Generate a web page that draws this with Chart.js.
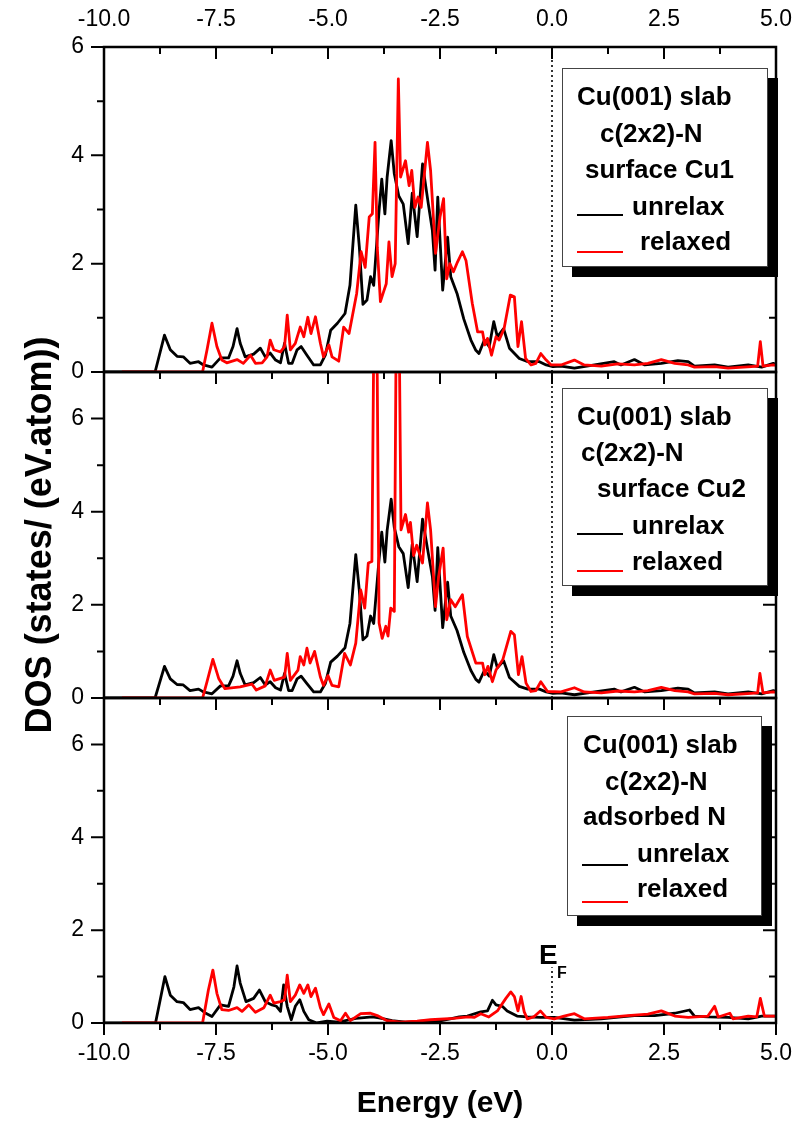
<!DOCTYPE html>
<html>
<head>
<meta charset="utf-8">
<script src="https://cdn.jsdelivr.net/npm/chart.js@4.4.1/dist/chart.umd.min.js"></script>
<style>
  body { margin: 0; background: #fff; font-family: 'Liberation Sans', Arial, sans-serif; }
  #wrap { position: relative; width: 796px; height: 1127px; overflow: hidden; }
  canvas { position: absolute; left: 0; top: 0; }
  .box { position: absolute; box-sizing: border-box; background: #fff; border: 1px solid #444; box-shadow: 10px 10px 0 #000; }
  .txt { position: absolute; font-weight: bold; font-size: 26px; line-height: 26px; white-space: nowrap; color: #000; }
  .dash { position: absolute; height: 2px; width: 46px; }
</style>
</head>
<body>
<div id="wrap">
  <canvas id="p1" width="796" height="1127"></canvas>
  <canvas id="p2" width="796" height="1127"></canvas>
  <canvas id="p3" width="796" height="1127"></canvas>
</div>
<script>
// energy axis (eV) and tick spacing
const energyMin = -10;
const energyMax = 5;
const energyStep = 2.5;
const dosStep = 2;

// panel 1: surface Cu1, [E, DOS]
const cu1Unrelax = [[-10,0],[-8.86,0],[-8.65,0.68],[-8.52,0.41],[-8.37,0.29],[-8.23,0.28],[-8.08,0.16],[-7.89,0.19],[-7.78,0.13],[-7.59,0.09],[-7.40,0.26],[-7.22,0.26],[-7.12,0.47],[-7.03,0.80],[-6.96,0.53],[-6.85,0.28],[-6.66,0.33],[-6.51,0.44],[-6.40,0.28],[-6.29,0.35],[-6.17,0.22],[-6.06,0.17],[-5.97,0.53],[-5.88,0.16],[-5.80,0.16],[-5.69,0.41],[-5.60,0.47],[-5.47,0.31],[-5.32,0.13],[-5.17,0.13],[-5.06,0.31],[-4.94,0.77],[-4.79,0.90],[-4.62,1.08],[-4.51,1.6],[-4.38,3.08],[-4.30,2.3],[-4.22,1.25],[-4.13,1.33],[-4.05,1.76],[-3.98,1.6],[-3.86,2.98],[-3.80,3.56],[-3.73,2.92],[-3.68,3.6],[-3.59,4.27],[-3.52,3.66],[-3.42,3.25],[-3.32,3.1],[-3.21,2.37],[-3.12,3.3],[-3.01,2.5],[-2.89,3.84],[-2.76,3.1],[-2.67,2.61],[-2.61,1.88],[-2.55,3.23],[-2.44,1.51],[-2.33,2.49],[-2.26,1.76],[-2.12,1.45],[-1.97,0.98],[-1.81,0.59],[-1.70,0.40],[-1.63,0.34],[-1.51,0.59],[-1.40,0.47],[-1.30,0.93],[-1.22,0.65],[-1.08,0.80],[-0.95,0.44],[-0.73,0.25],[-0.54,0.19],[-0.28,0.19],[-0.13,0.13],[0.02,0.10],[0.20,0.11],[0.50,0.07],[0.95,0.13],[1.39,0.19],[1.54,0.13],[1.84,0.23],[2.07,0.13],[2.44,0.16],[2.81,0.21],[3.04,0.19],[3.18,0.11],[3.63,0.13],[3.93,0.09],[4.38,0.13],[4.68,0.09],[4.94,0.16],[5,0.14]];
const cu1Relaxed = [[-9.6,0],[-7.8,0],[-7.70,0.41],[-7.59,0.90],[-7.48,0.47],[-7.37,0.22],[-7.26,0.17],[-7.03,0.23],[-6.89,0.16],[-6.73,0.31],[-6.62,0.16],[-6.47,0.17],[-6.36,0.28],[-6.29,0.59],[-6.21,0.41],[-6.06,0.37],[-5.97,0.47],[-5.91,1.05],[-5.84,0.41],[-5.73,0.53],[-5.62,0.83],[-5.54,0.65],[-5.45,1.01],[-5.38,0.71],[-5.28,1.02],[-5.17,0.53],[-5.10,0.28],[-4.98,0.50],[-4.91,0.28],[-4.76,0.20],[-4.65,0.83],[-4.53,0.71],[-4.36,1.45],[-4.26,2.22],[-4.17,1.93],[-4.08,2.86],[-4.01,2.92],[-3.95,4.24],[-3.90,2.3],[-3.83,1.3],[-3.76,1.48],[-3.70,1.63],[-3.64,2.40],[-3.57,1.76],[-3.50,2.0],[-3.43,5.41],[-3.38,3.60],[-3.27,3.90],[-3.19,3.44],[-3.13,3.72],[-3.06,3.04],[-2.99,3.23],[-2.92,3.04],[-2.78,4.24],[-2.71,3.72],[-2.60,2.19],[-2.50,2.86],[-2.42,3.20],[-2.35,1.72],[-2.28,2.00],[-2.20,1.85],[-2.11,2.03],[-2.00,2.22],[-1.92,2.06],[-1.78,1.27],[-1.66,0.74],[-1.55,0.74],[-1.50,0.50],[-1.44,0.62],[-1.35,0.31],[-1.25,0.65],[-1.18,0.59],[-1.07,0.80],[-0.93,1.42],[-0.84,1.39],[-0.76,0.47],[-0.68,0.93],[-0.59,0.25],[-0.47,0.13],[-0.36,0.16],[-0.25,0.34],[-0.13,0.22],[-0.02,0.13],[0.20,0.13],[0.50,0.22],[0.72,0.13],[1.10,0.11],[1.47,0.15],[1.84,0.13],[2.14,0.16],[2.44,0.23],[2.74,0.16],[3.04,0.13],[3.18,0.09],[3.63,0.10],[3.93,0.07],[4.45,0.10],[4.59,0.11],[4.65,0.56],[4.71,0.11],[4.94,0.13],[5,0.12]];

// panel 2: surface Cu2 (unrelaxed curve is the same as Cu1)
const cu2Unrelax = cu1Unrelax;
const cu2Relaxed = [[-9.6,0],[-7.8,0],[-7.70,0.35],[-7.57,0.83],[-7.44,0.42],[-7.30,0.20],[-6.96,0.24],[-6.70,0.30],[-6.60,0.17],[-6.40,0.26],[-6.29,0.60],[-6.20,0.38],[-5.97,0.45],[-5.91,0.96],[-5.84,0.38],[-5.67,0.60],[-5.62,0.89],[-5.54,0.71],[-5.47,1.07],[-5.40,0.75],[-5.30,1.00],[-5.17,0.45],[-5.10,0.27],[-5.00,0.48],[-4.91,0.27],[-4.76,0.24],[-4.63,0.96],[-4.50,0.71],[-4.38,1.18],[-4.27,2.32],[-4.18,1.93],[-4.10,2.90],[-4.02,2.93],[-3.94,12],[-3.86,1.61],[-3.79,1.28],[-3.71,1.54],[-3.66,1.33],[-3.60,1.93],[-3.52,1.86],[-3.45,12],[-3.37,3.61],[-3.27,3.94],[-3.20,3.56],[-3.16,3.77],[-3.09,3.06],[-3.02,3.28],[-2.89,2.90],[-2.78,4.19],[-2.71,3.61],[-2.60,1.96],[-2.53,2.61],[-2.43,3.22],[-2.35,1.68],[-2.26,2.11],[-2.16,1.96],[-2.00,2.22],[-1.89,1.32],[-1.70,0.75],[-1.55,0.75],[-1.50,0.50],[-1.43,0.68],[-1.33,0.35],[-1.25,0.60],[-1.10,0.82],[-0.92,1.43],[-0.84,1.36],[-0.75,0.50],[-0.67,0.89],[-0.58,0.32],[-0.47,0.14],[-0.36,0.16],[-0.25,0.35],[-0.10,0.14],[0.20,0.13],[0.50,0.22],[0.72,0.13],[1.10,0.11],[1.47,0.15],[1.84,0.13],[2.14,0.16],[2.44,0.23],[2.74,0.16],[3.04,0.13],[3.18,0.09],[3.63,0.10],[3.93,0.07],[4.45,0.10],[4.59,0.11],[4.64,0.53],[4.71,0.11],[4.94,0.13],[5,0.12]];

// panel 3: adsorbed N
const nUnrelax = [[-10,0],[-8.85,0],[-8.64,1.0],[-8.52,0.6],[-8.37,0.46],[-8.23,0.44],[-8.08,0.29],[-7.89,0.33],[-7.75,0.22],[-7.59,0.14],[-7.40,0.39],[-7.22,0.36],[-7.10,0.78],[-7.03,1.23],[-6.96,0.86],[-6.83,0.46],[-6.66,0.53],[-6.53,0.71],[-6.40,0.46],[-6.25,0.39],[-6.15,0.36],[-6.06,0.25],[-5.99,0.82],[-5.91,0.36],[-5.82,0.07],[-5.73,0.36],[-5.63,0.50],[-5.54,0.25],[-5.43,0.07],[-5.25,0.0],[-5.02,0.04],[-4.76,0.02],[-4.38,0.10],[-4.01,0.13],[-3.86,0.11],[-3.57,0.05],[-3.27,0.02],[-2.90,0.04],[-2.52,0.04],[-2.22,0.1],[-2.07,0.13],[-1.89,0.15],[-1.59,0.24],[-1.44,0.26],[-1.33,0.49],[-1.25,0.39],[-1.11,0.36],[-1.00,0.26],[-0.78,0.15],[-0.55,0.13],[-0.25,0.12],[0.05,0.12],[0.5,0.06],[1.1,0.09],[1.54,0.13],[1.84,0.16],[2.29,0.16],[2.74,0.21],[3.07,0.28],[3.18,0.15],[3.48,0.13],[3.93,0.12],[4.38,0.09],[4.68,0.15],[5,0.15]];
const nRelaxed = [[-9.6,0],[-7.8,0],[-7.67,0.71],[-7.57,1.14],[-7.48,0.64],[-7.37,0.29],[-7.22,0.27],[-7.03,0.33],[-6.92,0.25],[-6.77,0.39],[-6.62,0.23],[-6.43,0.33],[-6.29,0.60],[-6.21,0.43],[-6.06,0.46],[-5.97,0.50],[-5.91,1.03],[-5.84,0.46],[-5.73,0.60],[-5.63,0.82],[-5.54,0.64],[-5.45,0.82],[-5.38,0.57],[-5.28,0.75],[-5.17,0.33],[-5.10,0.18],[-4.98,0.41],[-4.87,0.12],[-4.72,0.05],[-4.61,0.21],[-4.50,0.05],[-4.27,0.20],[-4.05,0.21],[-3.90,0.16],[-3.68,0.05],[-3.38,0.02],[-3.01,0.04],[-2.71,0.07],[-2.2,0.1],[-1.87,0.13],[-1.74,0.12],[-1.59,0.2],[-1.41,0.13],[-1.22,0.26],[-1.03,0.53],[-0.92,0.67],[-0.84,0.57],[-0.76,0.26],[-0.69,0.57],[-0.62,0.24],[-0.55,0.09],[-0.41,0.13],[-0.26,0.26],[-0.13,0.12],[0.05,0.09],[0.27,0.15],[0.5,0.2],[0.72,0.09],[1.25,0.12],[1.69,0.16],[2.14,0.19],[2.44,0.26],[2.74,0.15],[3.04,0.12],[3.48,0.15],[3.63,0.36],[3.71,0.13],[3.97,0.21],[4.04,0.09],[4.38,0.15],[4.57,0.13],[4.65,0.53],[4.74,0.15],[5,0.15]];

Chart.defaults.font.family = "'Liberation Sans', Arial, sans-serif";
Chart.defaults.color = '#000';

function toPts(arr) {
  return arr.map(p => ({ x: p[0], y: p[1] }));
}

// box and ticks: x ticks hang down from each edge, y ticks out on the left, in on the right
const framePlugin = {
  id: 'frame',
  afterDraw(chart) {
    const { ctx, chartArea: a, scales } = chart;
    const xs = scales.x, ys = scales.y;
    ctx.save();
    ctx.strokeStyle = '#000';
    ctx.lineWidth = 2.5;
    ctx.strokeRect(a.left, a.top, a.right - a.left, a.bottom - a.top);
    ctx.lineWidth = 2;
    ctx.beginPath();
    for (let i = 0; i <= (energyMax - energyMin) / (energyStep / 2); i++) {
      const px = xs.getPixelForValue(energyMin + i * energyStep / 2);
      const len = i % 2 === 0 ? 12 : 7;
      ctx.moveTo(px, a.top); ctx.lineTo(px, a.top + len);
      ctx.moveTo(px, a.bottom); ctx.lineTo(px, a.bottom + len);
    }
    for (let v = 0; v <= ys.max; v++) {
      const py = ys.getPixelForValue(v);
      const len = v % 2 === 0 ? 13 : 7;
      ctx.moveTo(a.left - len, py); ctx.lineTo(a.left, py);
      ctx.moveTo(a.right - len, py); ctx.lineTo(a.right, py);
    }
    ctx.stroke();
    ctx.restore();
  }
};

function makePanel(id, unrelax, relaxed, yMax, efTop, pad, xAxis, labelLine, yTitle) {
  // small tick padding keeps the last label from shrinking the plot; tall line height places the labels
  const xScale = {
    type: 'linear', min: energyMin, max: energyMax,
    grid: { display: false, drawTicks: false }, border: { display: false },
    ticks: { stepSize: energyStep, font: { size: 23, lineHeight: labelLine }, padding: 3, callback: v => v.toFixed(1) }
  };
  Object.assign(xScale, xAxis);
  const yScale = {
    min: 0, max: yMax,
    grid: { display: false, drawTicks: false }, border: { display: false },
    ticks: { stepSize: dosStep, font: { size: 23 }, padding: 20, callback: v => (v % 2 === 0 ? String(v) : '') },
    afterFit: s => { s.width = 104; }
  };
  if (yTitle) {
    yScale.title = { display: true, text: yTitle, font: { size: 36, weight: 'bold' }, padding: { top: 19, bottom: 0 } };
  }
  return new Chart(document.getElementById(id), {
    type: 'line',
    data: {
      datasets: [
        { data: toPts(relaxed), borderColor: '#ff0000', order: 0 },
        { data: toPts(unrelax), borderColor: '#000000', order: 1 },
        { data: [{ x: 0, y: 0 }, { x: 0, y: efTop }], borderColor: '#000000', borderWidth: 1.6, borderDash: [2, 3], order: 2 }
      ]
    },
    options: {
      responsive: false,
      animation: false,
      devicePixelRatio: 1,
      layout: { padding: pad },
      elements: {
        line: { borderWidth: 2.8, tension: 0, borderJoinStyle: 'round' },
        point: { radius: 0 }
      },
      plugins: { legend: { display: false }, tooltip: { enabled: false } },
      scales: { x: xScale, y: yScale }
    },
    plugins: [framePlugin]
  });
}

makePanel('p1', cu1Unrelax, cu1Relaxed, 6, 6,
  { top: 0, bottom: 755, left: 0, right: 20 },
  { position: 'top', afterFit: s => { s.height = 47; } }, 2.1);

makePanel('p2', cu2Unrelax, cu2Relaxed, 7, 7,
  { top: 372, bottom: 429, left: 0, right: 20 },
  { display: false }, 1.2,
  'DOS (states/ (eV.atom))');

makePanel('p3', nUnrelax, nRelaxed, 7, 1.2,
  { top: 698, bottom: 0, left: 0, right: 20 },
  { position: 'bottom',
    title: { display: true, text: 'Energy (eV)', font: { size: 30, weight: 'bold' }, padding: { top: 0, bottom: 5 } },
    afterFit: s => { s.height = 104; } }, 2.4);
</script>

<!-- legend boxes -->
<div class="box" style="left:562px;top:68px;width:206px;height:199px;"></div>
<div class="txt" style="left:577px;top:83px;">Cu(001) slab</div>
<div class="txt" style="left:600px;top:120px;">c(2x2)-N</div>
<div class="txt" style="left:585px;top:156px;">surface Cu1</div>
<div class="dash" style="left:577px;top:214px;background:#000;"></div>
<div class="txt" style="left:632px;top:193px;">unrelax</div>
<div class="dash" style="left:577px;top:251px;background:#ff0000;"></div>
<div class="txt" style="left:640px;top:228px;">relaxed</div>

<div class="box" style="left:562px;top:388px;width:206px;height:198px;"></div>
<div class="txt" style="left:577px;top:403px;">Cu(001) slab</div>
<div class="txt" style="left:581px;top:439px;">c(2x2)-N</div>
<div class="txt" style="left:597px;top:475px;">surface Cu2</div>
<div class="dash" style="left:577px;top:533px;background:#000;"></div>
<div class="txt" style="left:632px;top:512px;">unrelax</div>
<div class="dash" style="left:577px;top:570px;background:#ff0000;"></div>
<div class="txt" style="left:632px;top:548px;">relaxed</div>

<div class="box" style="left:567px;top:716px;width:195px;height:200px;"></div>
<div class="txt" style="left:583px;top:731px;">Cu(001) slab</div>
<div class="txt" style="left:605px;top:768px;">c(2x2)-N</div>
<div class="txt" style="left:583px;top:803px;">adsorbed N</div>
<div class="dash" style="left:582px;top:864px;background:#000;"></div>
<div class="txt" style="left:637px;top:840px;">unrelax</div>
<div class="dash" style="left:582px;top:901px;background:#ff0000;"></div>
<div class="txt" style="left:637px;top:875px;">relaxed</div>

<!-- Fermi level label -->
<div class="txt" style="left:539px;top:941px;font-size:28px;line-height:28px;">E</div>
<div class="txt" style="left:557px;top:965px;font-size:16px;line-height:16px;">F</div>
</body>
</html>
